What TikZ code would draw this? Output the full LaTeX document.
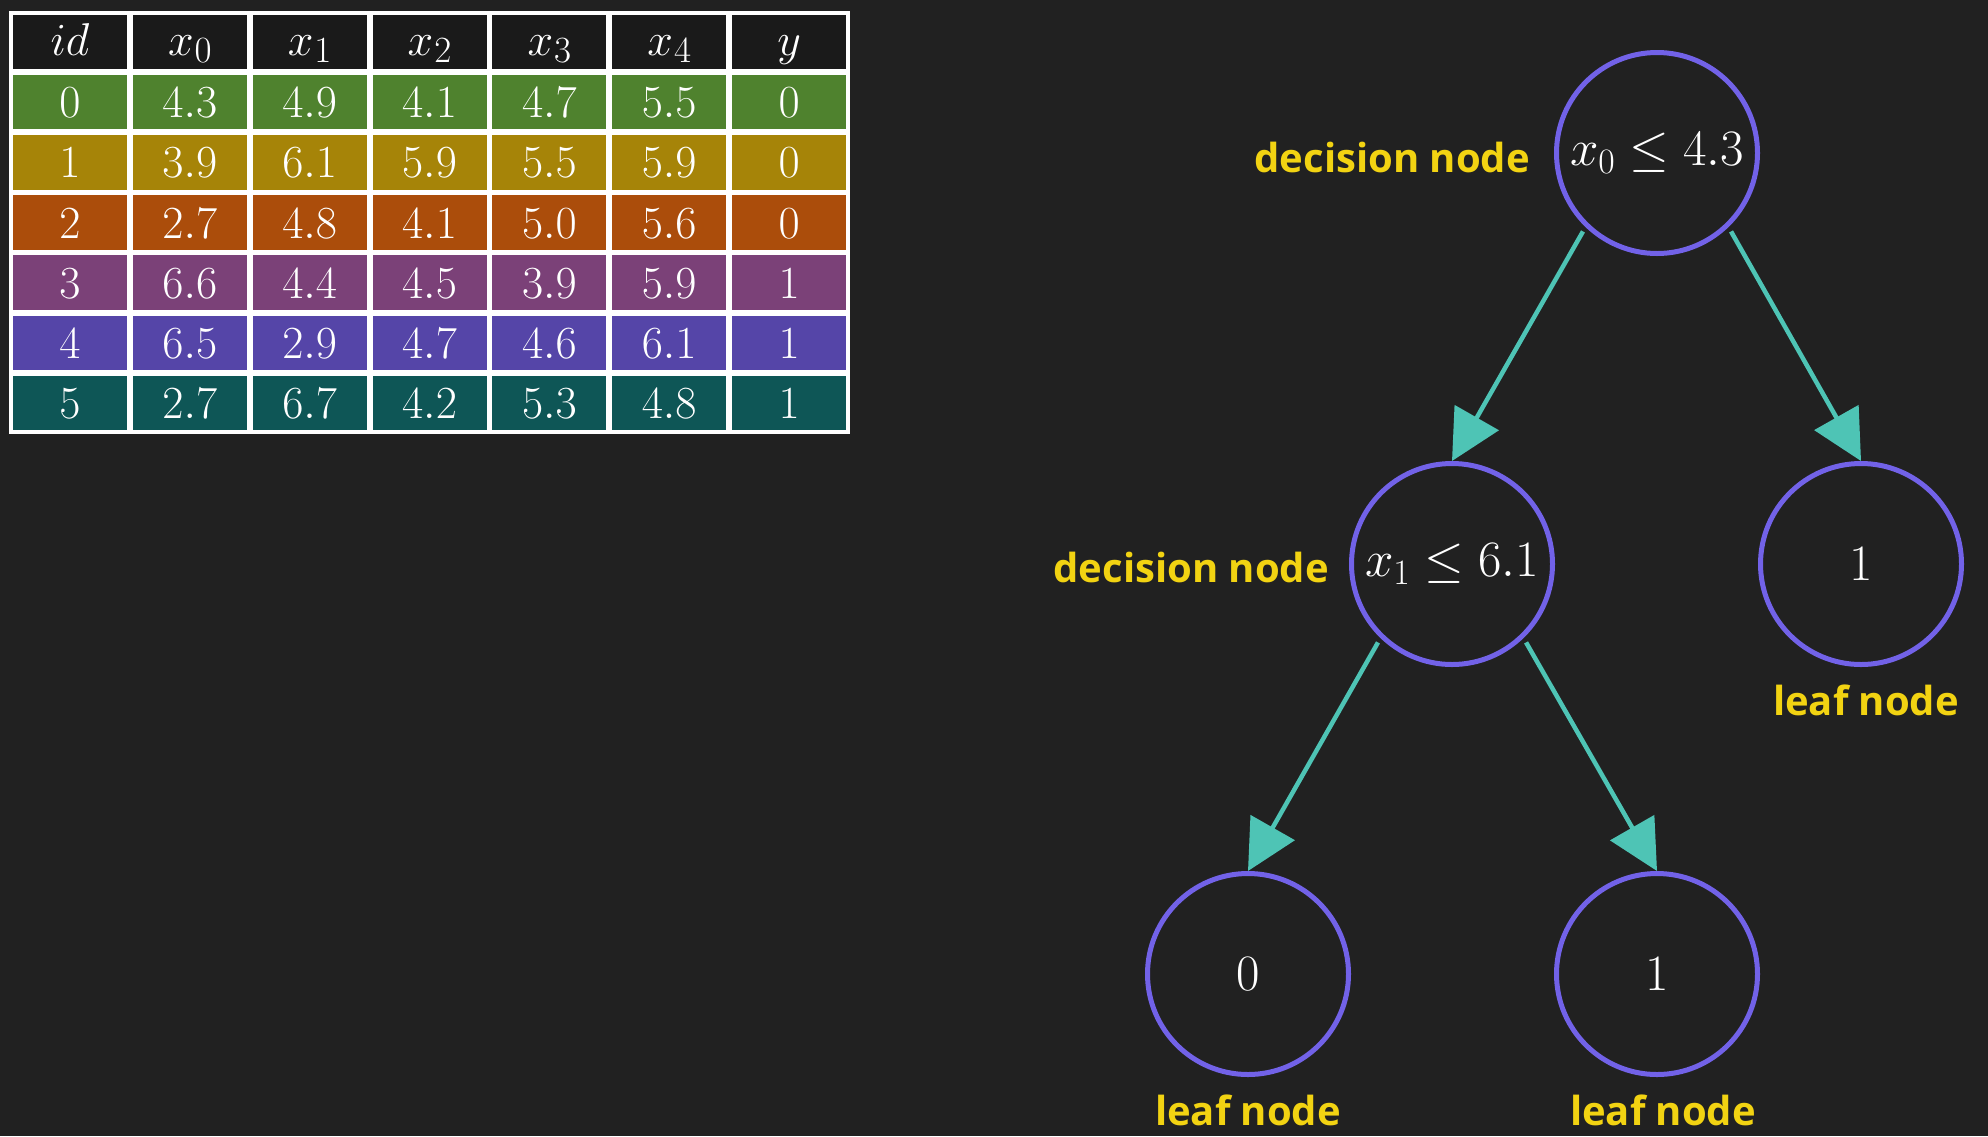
\RequirePackage{fix-cm}
\documentclass[tikz,border=0pt]{standalone}
\usepackage{fontspec}
\newfontfamily\lblfont{Open Sans}
\usetikzlibrary{arrows.meta}
\definecolor{bg}{HTML}{212121}
\definecolor{hdr}{HTML}{1A1A1A}
\definecolor{rowA}{HTML}{4F822E}
\definecolor{rowB}{HTML}{A68408}
\definecolor{rowC}{HTML}{AB4D0B}
\definecolor{rowD}{HTML}{7B4178}
\definecolor{rowE}{HTML}{5545A8}
\definecolor{rowF}{HTML}{0E5656}
\definecolor{ring}{RGB}{114,98,232}
\definecolor{teal}{RGB}{78,196,181}
\definecolor{lblyellow}{HTML}{F2D312}
\newcommand{\hsub}[1]{$x$\kern1pt\raisebox{-7pt}{\fontsize{37}{40}\selectfont$#1$}}
\tikzset{
  cellbox/.style={rectangle, inner sep=0pt, minimum width=114pt, minimum height=54.5pt,
    text=white, text height=31pt, text depth=0pt, font=\fontsize{46}{50}\selectfont},
  hdrbox/.style={cellbox, fill=hdr, text height=26pt},
  treenode/.style={circle, draw=ring, line width=5pt, minimum size=201pt, inner sep=0pt,
    text=white, font=\fontsize{51}{58}\selectfont},
  lbl/.style={inner sep=0pt, text=lblyellow, font=\lblfont\bfseries\fontsize{40}{46}\selectfont},
  arr/.style={draw=teal, line width=4.5pt, shorten <=5pt, -{Triangle[length=50pt,width=50pt]}}
}
\begin{document}
\begin{tikzpicture}[x=1pt,y=-1pt]
\fill[bg] (0,0) rectangle (1988,1136);
\useasboundingbox (0,0) rectangle (1988,1136);
% table
\fill[white] (9,11) rectangle (850,434);
\foreach \t [count=\c from 0] in {{$id$},{\hsub{0}},{\hsub{1}},{\hsub{2}},{\hsub{3}},{\hsub{4}},{$y$}}
  \node[hdrbox] (c0-\c) at ({10+119.857*(\c+0.5)},{12+60.143*0.5}) {\t};
\foreach \rr/\col/\vals in {1/rowA/{0,4.3,4.9,4.1,4.7,5.5,0},
                            2/rowB/{1,3.9,6.1,5.9,5.5,5.9,0},
                            3/rowC/{2,2.7,4.8,4.1,5.0,5.6,0},
                            4/rowD/{3,6.6,4.4,4.5,3.9,5.9,1},
                            5/rowE/{4,6.5,2.9,4.7,4.6,6.1,1},
                            6/rowF/{5,2.7,6.7,4.2,5.3,4.8,1}}{
  \foreach \t [count=\c from 0] in \vals
    \node[cellbox, fill=\col] (c\rr-\c) at ({10+119.857*(\c+0.5)},{12+60.143*(\rr+0.5)}) {$\t$};
}
% tree
\node[treenode] (root) at (1657,153) {$x_0 \leq 4.3$};
\node[treenode] (mid) at (1452,564) {$x_1 \leq 6.1$};
\node[treenode] (rleaf) at (1861,564) {$1$};
\node[treenode] (lleaf) at (1248,974) {$0$};
\node[treenode] (mleaf) at (1657,974) {$1$};
\draw[arr] (root.-134) -- (mid.north);
\draw[arr] (root.-46) -- (rleaf.north);
\draw[arr] (mid.-134) -- (lleaf.north);
\draw[arr] (mid.-46) -- (mleaf.north);
% labels
\node[lbl, anchor=east] (lroot) at ([xshift=-24pt,yshift=-4pt]root.west) {decision node};
\node[lbl, anchor=east] (lmid) at ([xshift=-20pt,yshift=-3pt]mid.west) {decision node};
\node[lbl, anchor=north] (lr) at ([yshift=-18pt,xshift=5pt]rleaf.south) {leaf node};
\node[lbl, anchor=north] (ll) at ([yshift=-18pt]lleaf.south) {leaf node};
\node[lbl, anchor=north] (lm) at ([yshift=-18pt,xshift=6pt]mleaf.south) {leaf node};
\end{tikzpicture}
\end{document}
